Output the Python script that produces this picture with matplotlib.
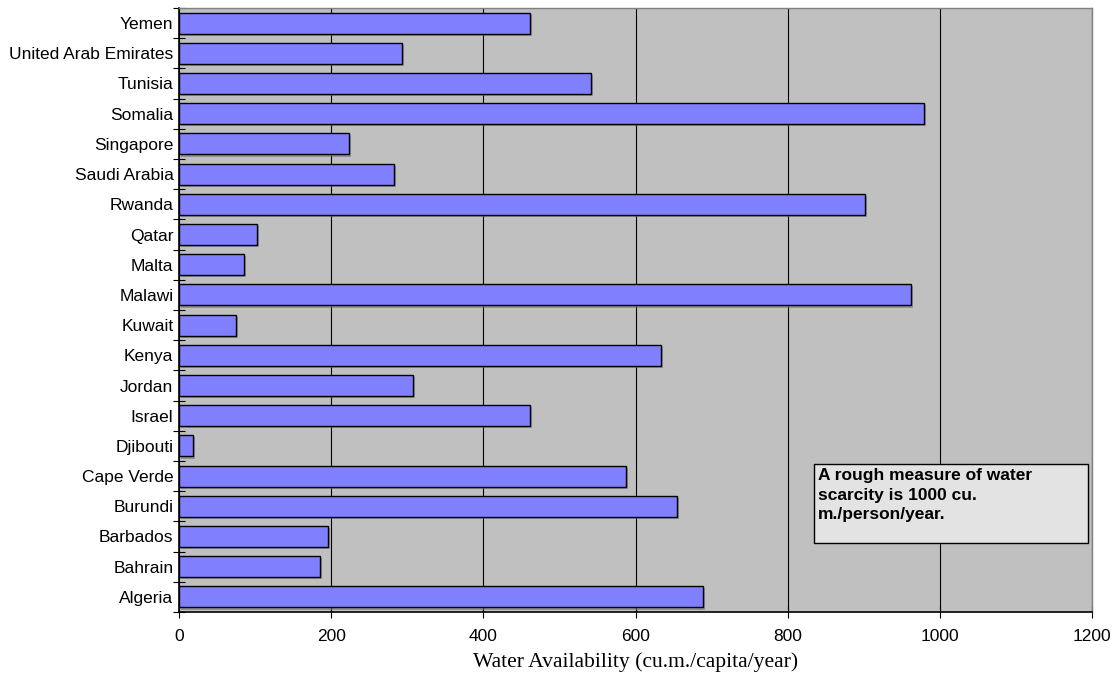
import matplotlib
matplotlib.use("Agg")
import matplotlib.pyplot as plt
import matplotlib.patheffects as pe
from matplotlib.patches import Rectangle
import numpy as np

countries = ["Algeria", "Bahrain", "Barbados", "Burundi", "Cape Verde", "Djibouti",
             "Israel", "Jordan", "Kenya", "Kuwait", "Malawi", "Malta", "Qatar",
             "Rwanda", "Saudi Arabia", "Singapore", "Somalia", "Tunisia",
             "United Arab Emirates", "Yemen"]
availability = [689, 185, 196, 655, 587, 18, 461, 308, 634, 75, 962, 85, 103,
                902, 283, 223, 979, 541, 293, 461]
x_ticks = [0, 200, 400, 600, 800, 1000, 1200]
x_label = "Water Availability (cu.m./capita/year)"
note = "A rough measure of water\nscarcity is 1000 cu.\nm./person/year."

fig = plt.figure(figsize=(11.16, 6.81), dpi=100)
ax = fig.add_axes([179/1116, 1 - 612/681, (1092 - 179)/1116, (612 - 8)/681])
ax.set_facecolor("#C0C0C0")

y = np.arange(len(countries))
bars = ax.barh(y, availability, height=0.7, color="#8080FF", edgecolor="black",
               linewidth=1.0, zorder=3)
for b in bars:
    b.set_path_effects([pe.SimplePatchShadow(offset=(1.5, -1.5), shadow_rgbFace="#707070", alpha=0.6),
                        pe.Normal()])

ax.set_xlim(0, 1200)
ax.set_ylim(-0.5, len(countries) - 0.5)
ax.set_xticks(x_ticks)
ax.set_xticklabels([str(v) for v in x_ticks], fontfamily="Liberation Sans", fontsize=12.5)
ax.xaxis.grid(True, color="black", linewidth=0.8, zorder=1)
ax.set_axisbelow(True)
ax.tick_params(axis="x", direction="inout", length=8, width=0.8, pad=8)

ax.set_yticks(y)
ax.set_yticklabels(countries, fontfamily="Liberation Sans", fontsize=12.5)
ax.tick_params(axis="y", which="major", length=0, pad=4)
ax.set_yticks(np.arange(-0.5, len(countries)), minor=True)
ax.tick_params(axis="y", which="minor", direction="inout", length=8, width=0.8)

for s in ["top", "right"]:
    ax.spines[s].set_color("#808080")
    ax.spines[s].set_linewidth(1.0)
for s in ["left", "bottom"]:
    ax.spines[s].set_color("black")
    ax.spines[s].set_linewidth(1.2)

ax.set_xlabel(x_label, fontfamily="Liberation Serif", fontsize=15.6, labelpad=6)

# annotation box (fixed size, in data coordinates)
ax.add_patch(Rectangle((835, 1.785), 360, 2.615, facecolor="#E3E3E3",
                       edgecolor="black", linewidth=1.0, zorder=5))
ax.text(840, 4.27, note, ha="left", va="top", fontfamily="Liberation Sans",
        fontsize=12.5, fontweight="bold", zorder=6, linespacing=1.38)

fig.savefig("out.png", dpi=100)
